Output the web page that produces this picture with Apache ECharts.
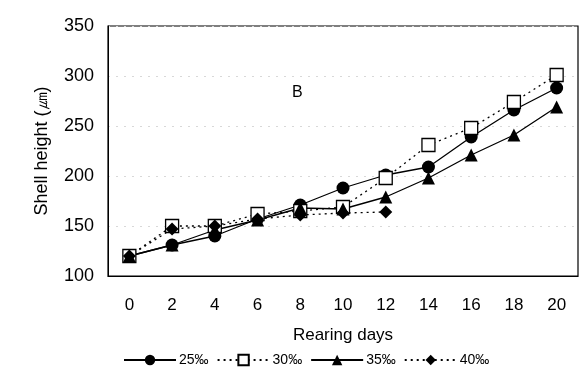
<!DOCTYPE html>
<html><head><meta charset="utf-8">
<script src="https://cdn.jsdelivr.net/npm/echarts@6/dist/echarts.min.js"></script>
<style>html,body{margin:0;padding:0;background:#fff}#c{width:581px;height:380px}</style>
</head><body><div id="c"></div>
<script>
var days = ['0','2','4','6','8','10','12','14','16','18','20'];
var s25 = [120, 131, 140, 157, 171, 188, 201, 209, 239, 266, 288];
var s30 = [120, 150, 150, 162, 165, 169, 198, 231, 248, 274, 301];
var s35 = [120, 131, 146, 156, 168, 167, 179, 198, 221, 241, 269];
var s40 = [120, 147, 150, 157, 161, 163, 164];
var names = ['25‰', '30‰', '35‰', '40‰'];
var yTicks = [100, 150, 200, 250, 300, 350];

var chart = echarts.init(document.getElementById('c'), null, {renderer: 'canvas'});
function ser(name, data, symbol, dotted, fill, size) {
  return {
    name: name, type: 'line', data: data, symbol: symbol, symbolSize: size,
    showAllSymbol: true,
    lineStyle: {color: '#000', width: 1.3, type: dotted ? [2, 4] : 'solid'},
    itemStyle: {color: fill, borderColor: '#000', borderWidth: fill === '#fff' ? 1.3 : 0},
    emphasis: {disabled: true}, z: 3
  };
}
chart.setOption({
  animation: false,
  backgroundColor: '#fff',
  textStyle: {fontFamily: 'Liberation Sans, Arial, sans-serif', color: '#000'},
  grid: {left: 108, right: 3, top: 26, bottom: 104, show: true, borderColor: '#000', borderWidth: 1.2},
  graphic: [{type: 'text', left: 292, top: 85, style: {text: 'B', fontSize: 16, fill: '#000', fontFamily: 'Liberation Sans, Arial, sans-serif'}}],
  legend: {
    bottom: 8, left: 118, itemWidth: 52, itemHeight: 13, itemGap: 8,
    textStyle: {fontSize: 14, color: '#000', padding: [0, 0, 0, -2], fontFamily: 'Liberation Sans, sans-serif'},
    data: names
  },
  xAxis: {
    type: 'category', data: days, boundaryGap: true,
    name: 'Rearing days', nameLocation: 'middle', nameGap: 51,
    nameTextStyle: {fontSize: 17, color: '#000'},
    axisLine: {lineStyle: {color: '#000'}}, axisTick: {show: false},
    axisLabel: {fontSize: 17, color: '#000', margin: 21}
  },
  yAxis: {
    type: 'value', min: yTicks[0], max: yTicks[yTicks.length - 1], interval: 50,
    name: 'Shell height (㎛)', nameLocation: 'middle', nameGap: 57,
    nameTextStyle: {fontSize: 18, color: '#000'},
    axisLine: {show: true, lineStyle: {color: '#000'}}, axisTick: {show: false},
    axisLabel: {fontSize: 18, color: '#000', margin: 14},
    splitLine: {show: true, lineStyle: {color: '#d8d8d8', type: [2, 6], width: 1}}
  },
  series: [
    ser(names[0], s25, 'circle', false, '#000', 13),
    ser(names[1], s30, 'rect', true, '#fff', 13),
    ser(names[2], s35, 'triangle', false, '#000', 13),
    ser(names[3], s40, 'diamond', true, '#000', 13)
  ]
});
</script></body></html>
